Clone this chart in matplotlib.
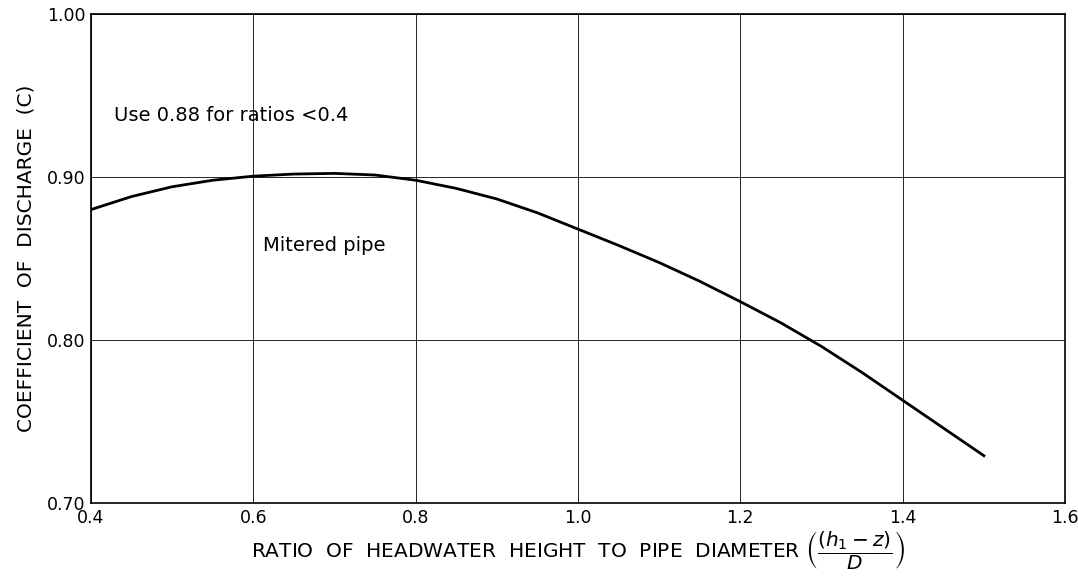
import numpy as np
import matplotlib.pyplot as plt

# values
ratio = [0.40, 0.45, 0.50, 0.55, 0.60, 0.65, 0.70, 0.75, 0.80, 0.85, 0.90, 0.95,
         1.00, 1.05, 1.10, 1.15, 1.20, 1.25, 1.30, 1.35, 1.40, 1.45, 1.50]
coef = [0.880, 0.888, 0.894, 0.898, 0.9005, 0.9018, 0.9022, 0.9012, 0.8980, 0.8930, 0.8865, 0.8780,
        0.8680, 0.8580, 0.8475, 0.8360, 0.8235, 0.8105, 0.7960, 0.7800, 0.7630, 0.7460, 0.7290]

xticks = [0.4, 0.6, 0.8, 1.0, 1.2, 1.4, 1.6]
yticks = [0.70, 0.80, 0.90, 1.00]

plt.rcParams['font.family'] = ['DejaVu Sans']

fig = plt.figure(figsize=(10.78, 5.80), dpi=100)
ax = fig.add_axes([0.0844, 0.1328, 0.9036, 0.8431])

ax.plot(ratio, coef, color='black', lw=2.0)

ax.set_xlim(0.4, 1.6)
ax.set_ylim(0.70, 1.00)
ax.set_xticks(xticks)
ax.set_xticklabels([f'{v:.1f}' for v in xticks])
ax.set_yticks(yticks)
ax.set_yticklabels([f'{v:.2f}' for v in yticks])
ax.tick_params(length=0, labelsize=12.5, pad=4)
ax.grid(True, color='black', lw=0.6)
for s in ax.spines.values():
    s.set_linewidth(1.2)

ax.text(0.428, 0.938, 'Use 0.88 for ratios <0.4', fontsize=14, va='center')
ax.text(0.612, 0.858, 'Mitered pipe', fontsize=14, va='center')

ax.set_ylabel('COEFFICIENT  OF  DISCHARGE  (C)', fontsize=14.5, labelpad=8)
fig.text(0.536, 0.05,
         r'RATIO  OF  HEADWATER  HEIGHT  TO  PIPE  DIAMETER $\left(\dfrac{(h_1 - z)}{D}\right)$',
         fontsize=14.5, ha='center', va='center')

fig.savefig('out.png', dpi=100)
